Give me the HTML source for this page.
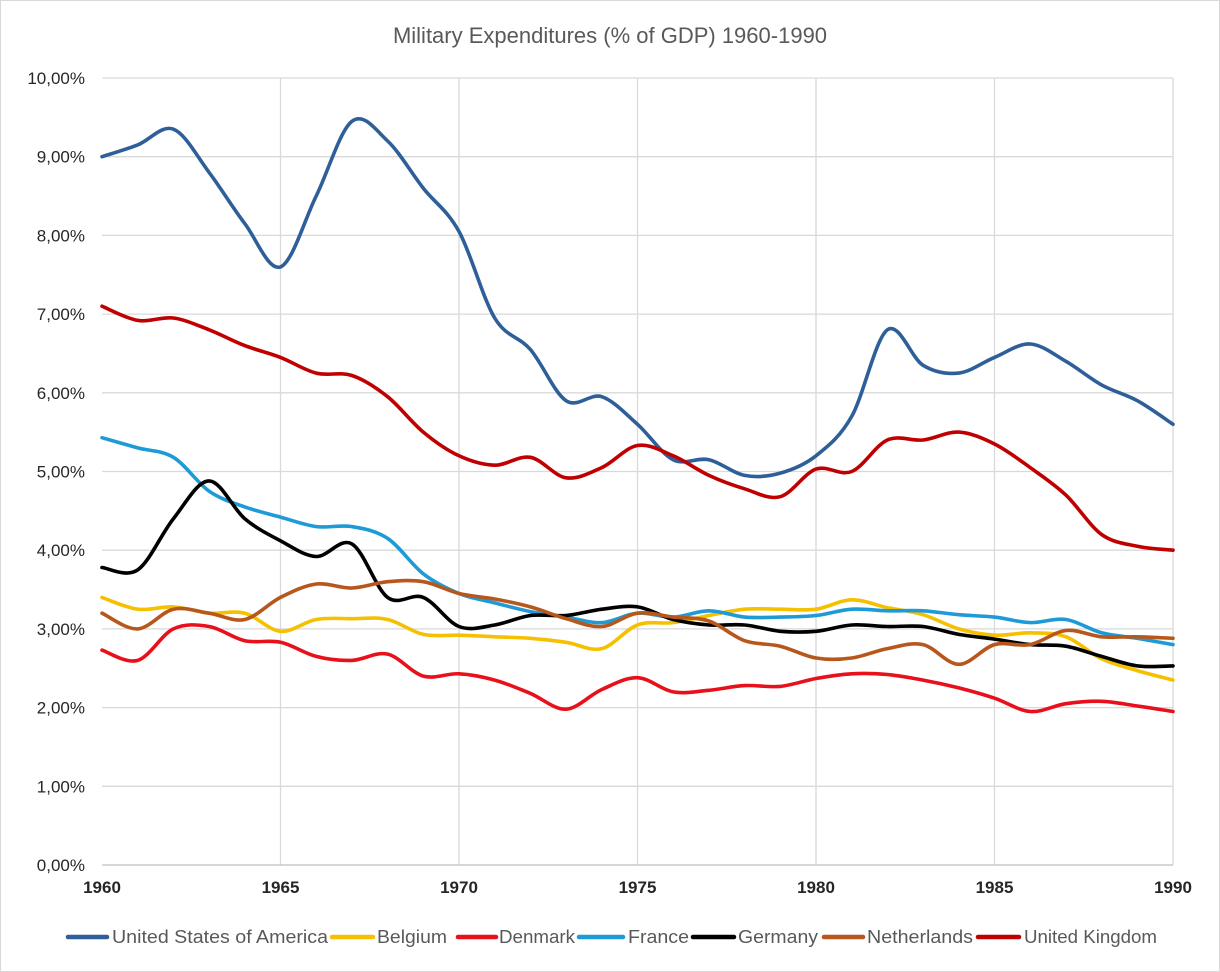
<!DOCTYPE html>
<html><head><meta charset="utf-8"><style>
html,body{margin:0;padding:0;background:#fff;}
svg{display:block;font-family:"Liberation Sans",sans-serif;}
</style></head><body>
<svg id="c" width="1220" height="972" viewBox="0 0 1220 972" xmlns="http://www.w3.org/2000/svg">
<rect x="0.5" y="0.5" width="1219" height="971" fill="#fff" stroke="#d9d9d9"/>
<text x="610" y="43" text-anchor="middle" font-size="22" fill="#595959">Military Expenditures (% of GDP) 1960-1990</text>
<g id="grid" stroke="#d9d9d9" stroke-width="1.3"></g>
<g id="ylab" font-size="17" fill="#262626" text-anchor="end"></g>
<g id="xlab" font-size="17" fill="#262626" text-anchor="middle" font-weight="bold"></g>
<g id="series" fill="none" stroke-width="3.6" stroke-linejoin="round" stroke-linecap="round"></g>
<line x1="102" y1="865" x2="1173" y2="865" stroke="#bfbfbf" stroke-width="1.3"/>
<g font-size="18" fill="#595959" stroke-width="4.5" stroke-linecap="round">
<line x1="68" y1="937" x2="107" y2="937" stroke="#2e5f99"/><text x="112" y="943" textLength="216" lengthAdjust="spacingAndGlyphs">United States of America</text>
<line x1="332" y1="937" x2="373" y2="937" stroke="#f5c000"/><text x="377" y="943" textLength="70" lengthAdjust="spacingAndGlyphs">Belgium</text>
<line x1="458" y1="937" x2="496" y2="937" stroke="#e8101a"/><text x="499" y="943" textLength="76" lengthAdjust="spacingAndGlyphs">Denmark</text>
<line x1="579" y1="937" x2="623" y2="937" stroke="#1e9bd7"/><text x="628" y="943" textLength="61" lengthAdjust="spacingAndGlyphs">France</text>
<line x1="693" y1="937" x2="734" y2="937" stroke="#000"/><text x="738" y="943" textLength="80" lengthAdjust="spacingAndGlyphs">Germany</text>
<line x1="824" y1="937" x2="863" y2="937" stroke="#b8571c"/><text x="867" y="943" textLength="106" lengthAdjust="spacingAndGlyphs">Netherlands</text>
<line x1="978" y1="937" x2="1019" y2="937" stroke="#c00000"/><text x="1024" y="943" textLength="133" lengthAdjust="spacingAndGlyphs">United Kingdom</text>
</g>
</svg>
<script>
var NS="http://www.w3.org/2000/svg";
function X(i){return 102+i*(1071/30);}
function Y(v){return 865-v*78.7;}
function el(p,t,a,txt){var e=document.createElementNS(NS,t);for(var k in a)e.setAttribute(k,a[k]);if(txt!=null)e.textContent=txt;document.getElementById(p).appendChild(e);}
for(var i=0;i<=10;i++){var y=Y(i);if(i>0)el("grid","line",{x1:102,x2:1173,y1:y,y2:y});el("ylab","text",{x:85,y:y+6},i+",00%");}
for(var j=0;j<=6;j++){var x=X(j*5);if(j>0)el("grid","line",{x1:x,x2:x,y1:Y(10),y2:865});el("xlab","text",{x:x,y:893},1960+j*5);}
var S=[
["#2e5f99",[9.0,9.15,9.35,8.8,8.15,7.6,8.5,9.45,9.2,8.6,8.05,6.95,6.55,5.9,5.95,5.6,5.15,5.15,4.95,4.98,5.2,5.7,6.8,6.35,6.25,6.45,6.62,6.4,6.1,5.9,5.6]],
["#f5c000",[3.4,3.25,3.28,3.2,3.2,2.97,3.12,3.13,3.12,2.93,2.92,2.9,2.88,2.83,2.75,3.05,3.08,3.17,3.25,3.25,3.25,3.37,3.27,3.18,3.0,2.92,2.95,2.9,2.62,2.47,2.35]],
["#e8101a",[2.73,2.6,3.0,3.03,2.85,2.83,2.65,2.6,2.68,2.4,2.43,2.35,2.18,1.98,2.23,2.38,2.2,2.22,2.28,2.27,2.37,2.43,2.42,2.35,2.25,2.12,1.95,2.05,2.08,2.02,1.95]],
["#1e9bd7",[5.43,5.3,5.18,4.75,4.55,4.42,4.3,4.3,4.15,3.7,3.45,3.33,3.22,3.15,3.08,3.2,3.15,3.23,3.15,3.15,3.17,3.25,3.23,3.23,3.18,3.15,3.08,3.12,2.95,2.88,2.8]],
["#000000",[3.78,3.75,4.4,4.88,4.4,4.12,3.92,4.08,3.4,3.4,3.03,3.05,3.17,3.17,3.25,3.28,3.12,3.05,3.05,2.97,2.97,3.05,3.03,3.03,2.93,2.87,2.8,2.78,2.65,2.53,2.53]],
["#b8571c",[3.2,3.0,3.25,3.2,3.12,3.4,3.57,3.52,3.6,3.6,3.45,3.38,3.28,3.13,3.03,3.2,3.15,3.1,2.85,2.78,2.63,2.63,2.75,2.8,2.55,2.8,2.8,2.98,2.9,2.9,2.88]],
["#c00000",[7.1,6.92,6.95,6.8,6.6,6.45,6.25,6.22,5.95,5.5,5.2,5.08,5.18,4.92,5.05,5.33,5.2,4.95,4.78,4.68,5.03,5.0,5.4,5.4,5.5,5.35,5.05,4.7,4.2,4.05,4.0]]
];
S.forEach(function(s){var d=s[1],p=d.map(function(v,i){return [X(i),Y(v)];});
var str="M"+p[0][0].toFixed(1)+","+p[0][1].toFixed(1);
for(var i=0;i<p.length-1;i++){var p0=p[Math.max(i-1,0)],p1=p[i],p2=p[i+1],p3=p[Math.min(i+2,p.length-1)];
var c1=[p1[0]+(p2[0]-p0[0])/6,p1[1]+(p2[1]-p0[1])/6],c2=[p2[0]-(p3[0]-p1[0])/6,p2[1]-(p3[1]-p1[1])/6];
str+="C"+c1[0].toFixed(1)+","+c1[1].toFixed(1)+" "+c2[0].toFixed(1)+","+c2[1].toFixed(1)+" "+p2[0].toFixed(1)+","+p2[1].toFixed(1);}
el("series","path",{d:str,stroke:s[0]});});
</script>
</body></html>
